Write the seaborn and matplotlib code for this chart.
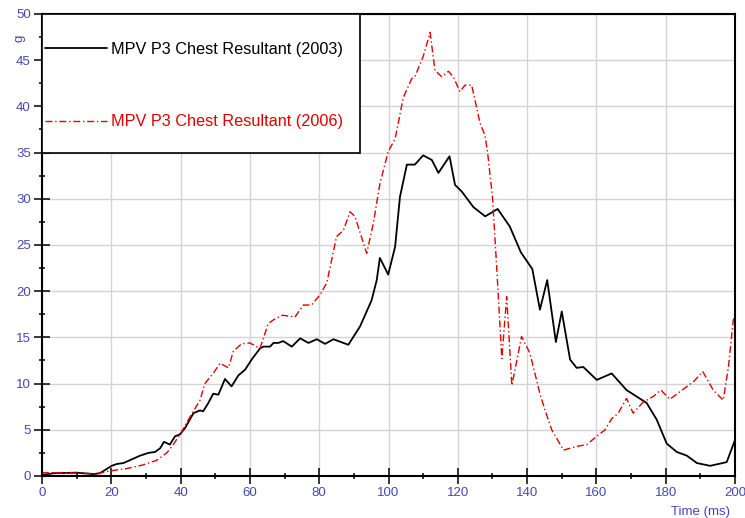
import numpy as np
import pandas as pd
import seaborn as sns
import matplotlib.pyplot as plt
from matplotlib.patches import Rectangle
from matplotlib.ticker import MultipleLocator

# values
t_2003 = [0, 3.3, 10, 14.8, 16.7, 18.2, 20.1, 21.6, 23.5, 25.9, 28.3, 30.7, 32.6, 34.1,
          35.2, 36.9, 38.4, 39.8, 41.3, 43.7, 45.6, 46.5, 48.0, 49.4, 50.9, 52.8, 54.7,
          56.7, 58.6, 60.5, 62.9, 63.9, 65.8, 66.8, 68.2, 69.6, 72.1, 74.5, 76.9, 79.3,
          81.7, 84.1, 88.4, 91.8, 95.1, 96.6, 97.5, 99.9, 101.9, 103.3, 105.3, 107.6,
          110.0, 112.5, 114.4, 117.6, 119.2, 121.1, 124.5, 127.9, 131.5, 135.0, 138.2,
          141.5, 143.7, 145.8, 148.3, 150.0, 152.4, 154.3, 156.2, 160.1, 164.4, 168.7,
          174.5, 177.4, 180.3, 183.2, 186.1, 189.0, 192.8, 197.6, 200]
g_2003 = [0.1, 0.3, 0.36, 0.2, 0.3, 0.65, 1.1, 1.3, 1.4, 1.8, 2.2, 2.5, 2.6, 3.0,
          3.7, 3.4, 4.3, 4.5, 5.2, 6.8, 7.1, 7.0, 7.9, 8.9, 8.8, 10.5, 9.7,
          10.9, 11.5, 12.6, 13.8, 14.0, 14.0, 14.4, 14.4, 14.6, 14.0, 14.9, 14.4, 14.8,
          14.3, 14.8, 14.2, 16.2, 19.0, 21.2, 23.6, 21.8, 24.8, 30.2, 33.7, 33.7,
          34.7, 34.2, 32.8, 34.6, 31.5, 30.8, 29.1, 28.1, 28.9, 27.0, 24.2,
          22.4, 18.0, 21.2, 14.5, 17.8, 12.6, 11.7, 11.8, 10.4, 11.1, 9.3,
          7.9, 6.1, 3.5, 2.6, 2.2, 1.4, 1.1, 1.5, 3.9]

t_2006 = [0, 7.1, 15.8, 19.6, 24.4, 29.2, 33.1, 36.0, 37.9, 40.3, 42.7, 45.6, 47.0,
          49.4, 51.4, 53.8, 55.2, 57.6, 60.0, 62.9, 65.3, 66.8, 69.4, 73.0, 75.4, 77.8,
          80.2, 82.2, 85.0, 87.0, 88.9, 90.3, 93.7, 95.6, 97.5, 99.9, 101.9, 104.3,
          106.7, 107.6, 110.0, 112.0, 113.4, 115.4, 117.3, 118.7, 120.6, 122.1, 124.0,
          126.4, 127.8, 128.6, 130.0, 131.2, 132.7, 134.1, 135.6, 138.4, 140.8, 143.7,
          145.2, 147.1, 150.5, 154.3, 157.2, 160.1, 162.5, 164.4, 166.3, 168.7, 170.6,
          173.5, 176.4, 178.6, 181.2, 185.1, 188.0, 190.7, 193.7, 196.6, 198.1, 199.5, 200]
g_2006 = [0.35, 0.35, 0.25, 0.55, 0.8, 1.2, 1.7, 2.5, 3.4, 4.8, 6.4, 8.2, 10.0,
          11.1, 12.2, 11.7, 13.5, 14.3, 14.4, 13.8, 16.5, 16.9, 17.4, 17.2, 18.5, 18.5,
          19.6, 20.9, 25.9, 26.6, 28.6, 28.1, 24.1, 27.3, 31.6, 35.1, 36.5, 41.0,
          43.0, 43.2, 45.4, 48.0, 43.9, 43.2, 43.8, 43.2, 41.6, 42.3, 42.3,
          38.2, 36.9, 35.0, 30.2, 22.7, 12.7, 19.4, 9.8, 15.1, 13.3, 8.9,
          7.1, 5.0, 2.8, 3.2, 3.4, 4.3, 5.0, 6.2, 6.8, 8.4, 6.8,
          8.0, 8.6, 9.3, 8.3, 9.4, 10.2, 11.3, 9.3, 8.2, 11.8, 16.9, 17.5]

labels = ["MPV P3 Chest Resultant (2003)", "MPV P3 Chest Resultant (2006)"]

df_a = pd.DataFrame({"t": t_2003, "g": g_2003})
df_b = pd.DataFrame({"t": t_2006, "g": g_2006})

sns.set_theme(style="white")
plt.rcParams['font.family'] = ['Liberation Sans', 'DejaVu Sans']

blue = "#4646b8"
fig = plt.figure(figsize=(7.45, 5.18), dpi=100)
ax = fig.add_axes([0.0564, 0.0811, 0.9302, 0.8919])

sns.lineplot(data=df_a, x="t", y="g", ax=ax, color="black", linewidth=1.3,
             estimator=None, label=labels[0])
sns.lineplot(data=df_b, x="t", y="g", ax=ax, color="#e00000", linewidth=1.0,
             estimator=None, label=labels[1], linestyle=(0, (5, 2, 1, 2)))

ax.set_xlim(0, 200)
ax.set_ylim(0, 50)
ax.xaxis.set_major_locator(MultipleLocator(20))
ax.xaxis.set_minor_locator(MultipleLocator(10))
ax.yaxis.set_major_locator(MultipleLocator(5))
ax.yaxis.set_minor_locator(MultipleLocator(2.5))

ax.grid(True, which="major", color="#d4d4d4", linewidth=1)
ax.set_axisbelow(True)
for s in ax.spines.values():
    s.set_visible(True)
    s.set_color("black")
    s.set_linewidth(1.5)

ax.tick_params(which="major", direction="inout", length=12, width=1.1,
               color="black", labelcolor=blue, labelsize=9.5, pad=2,
               bottom=True, left=True)
ax.tick_params(which="minor", direction="inout", length=5, width=1.1,
               color="black", bottom=True, left=True)

ax.set_xlabel("Time (ms)", color=blue, fontsize=9.5)
ax.set_ylabel("g", color=blue, fontsize=9.5)
ax.xaxis.set_label_coords(0.95, -0.064)
ax.yaxis.set_label_coords(-0.024, 0.948)

# legend box
ax.add_patch(Rectangle((0, 0.7), 0.459, 0.3, transform=ax.transAxes,
                       facecolor="white", edgecolor="black", linewidth=1.2, zorder=5))
leg = ax.legend(loc="upper left", bbox_to_anchor=(0.004, 0.94), frameon=False,
                borderpad=0, borderaxespad=0, fontsize=11.7, handlelength=3.8,
                handletextpad=0.25, labelspacing=3.55, labelcolor="linecolor")
leg.set_zorder(6)

fig.savefig("out.png", dpi=100)
